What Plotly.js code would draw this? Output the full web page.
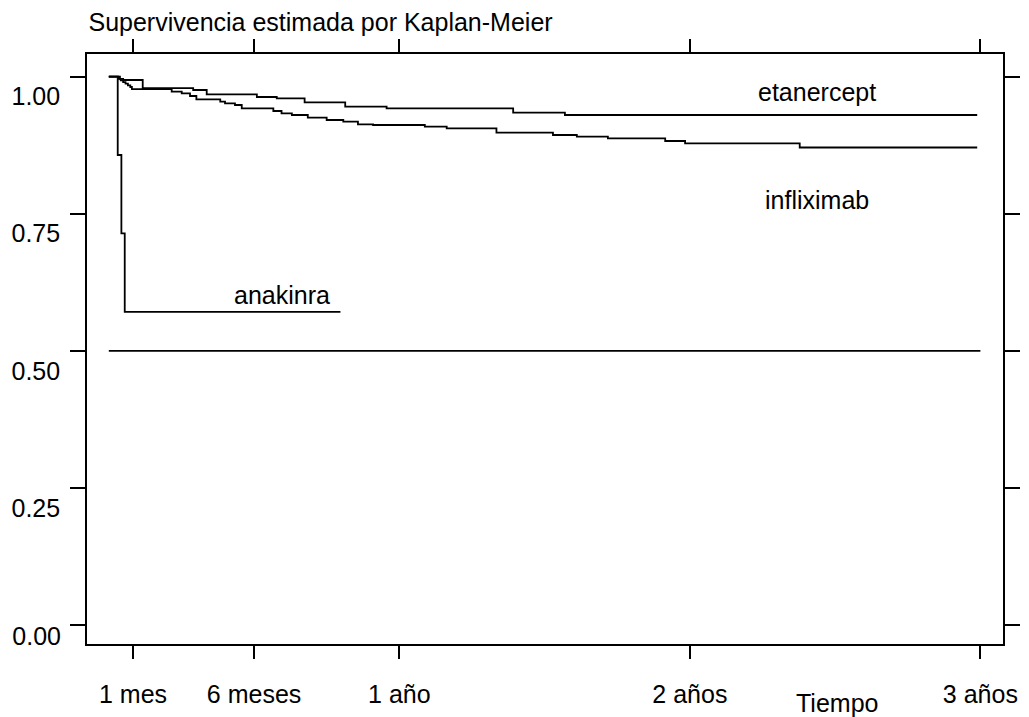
<!DOCTYPE html>
<html>
<head>
<meta charset="utf-8">
<script src="https://cdn.plot.ly/plotly-3.0.1.min.js"></script>
<style>html,body{margin:0;padding:0;background:#fff}#chart{width:1029px;height:717px}</style>
</head>
<body>
<div id="chart"></div>
<script>
// Tiempo en días
var xTickVals = [30.4, 182.5, 365, 730, 1095];
var xTickText = ["1 mes", "6 meses", "1 año", "2 años", "3 años"];
var yTickVals = [0, 0.25, 0.5, 0.75, 1];
var yTickText = ["", "0.25", "0.50", "0.75", "1.00"];
var yZeroVals = [0];
var yZeroText = ["0.00"];

var etanerceptTime = [0, 14, 18, 42.6, 106, 123, 186, 211, 246, 297, 349, 508, 573, 1091];
var etanerceptSurv = [1.0, 0.996, 0.9938, 0.979, 0.9756, 0.9677, 0.9628, 0.9604, 0.9531, 0.9451, 0.9421, 0.9342, 0.930, 0.930];

var infliximabTime = [0, 12, 15, 18, 21, 24, 27, 29, 79, 91.6, 102, 110, 140, 146, 158.5, 167, 206.7, 217, 230, 250, 273.7, 294.6, 313, 332, 397, 424.5, 487, 558, 588, 627, 699, 724, 868, 1091];
var infliximabSurv = [1.0, 0.996, 0.993, 0.990, 0.987, 0.984, 0.981, 0.977, 0.9725, 0.9695, 0.9646, 0.9586, 0.9543, 0.9513, 0.9482, 0.9422, 0.9373, 0.9331, 0.930, 0.9251, 0.9209, 0.9178, 0.913, 0.9117, 0.9087, 0.9057, 0.8977, 0.8935, 0.8905, 0.8875, 0.8826, 0.8784, 0.8707, 0.8707];

var anakinraTime = [0, 11.2, 15.8, 20, 291];
var anakinraSurv = [1.0, 0.857, 0.714, 0.571, 0.571];

var medianTime = [0, 1095];
var medianSurv = [0.5, 0.5];

var seriesNames = ["etanercept", "infliximab", "anakinra"];

var lineStyle = {color: "#000", width: 1.8, shape: "hv"};
var traces = [
  {x: etanerceptTime, y: etanerceptSurv, name: seriesNames[0], mode: "lines", line: lineStyle},
  {x: infliximabTime, y: infliximabSurv, name: seriesNames[1], mode: "lines", line: lineStyle},
  {x: anakinraTime, y: anakinraSurv, name: seriesNames[2], mode: "lines", line: lineStyle},
  {x: medianTime, y: medianSurv, name: "mediana", mode: "lines", yaxis: "y2", line: {color: "#000", width: 1.8}}
];

var font = {family: "Liberation Sans, Arial, sans-serif", size: 25, color: "#000"};
var yRange = [-0.0346, 1.0412];

var layout = {
  width: 1029, height: 717,
  margin: {l: 87, r: 26, t: 54, b: 73, pad: 0},
  paper_bgcolor: "#fff", plot_bgcolor: "#fff",
  showlegend: false,
  font: font,
  title: {text: "Supervivencia estimada por Kaplan-Meier", font: font,
          xref: "container", x: 0.086, xanchor: "left",
          yref: "container", y: 0.969, yanchor: "middle"},
  xaxis: {
    range: [-27.4, 1123.4], showgrid: false, zeroline: false,
    showline: true, linecolor: "#000", linewidth: 1.8, mirror: "ticks",
    ticks: "outside", ticklen: 13, tickwidth: 1.8, tickcolor: "#000",
    tickmode: "array", tickvals: xTickVals, ticktext: xTickText,
    ticklabelstandoff: 14, tickfont: font
  },
  yaxis: {
    range: yRange, showgrid: false, zeroline: false,
    showline: true, linecolor: "#000", linewidth: 1.8, mirror: "ticks",
    ticks: "outside", ticklen: 15, tickwidth: 1.8, tickcolor: "#000",
    tickmode: "array", tickvals: yTickVals, ticktext: yTickText,
    ticklabelshift: 20, ticklabelstandoff: 5, tickfont: font
  },
  yaxis2: {
    overlaying: "y", side: "left", range: yRange,
    showgrid: false, zeroline: false, showline: false,
    ticks: "outside", ticklen: 15, tickcolor: "rgba(0,0,0,0)",
    tickmode: "array", tickvals: yZeroVals, ticktext: yZeroText,
    ticklabelshift: 11, ticklabelstandoff: 5, tickfont: font
  },
  annotations: [
    {text: seriesNames[0], x: 889.7, y: 0.972, xref: "x", yref: "y", xanchor: "center", yanchor: "middle", showarrow: false, font: font},
    {text: seriesNames[1], x: 889.7, y: 0.775, xref: "x", yref: "y", xanchor: "center", yanchor: "middle", showarrow: false, font: font},
    {text: seriesNames[2], x: 217.6, y: 0.6017, xref: "x", yref: "y", xanchor: "center", yanchor: "middle", showarrow: false, font: font},
    {text: "Tiempo", x: (837 - 87) / 916, y: -0.1, xref: "paper", yref: "paper", xanchor: "center", yanchor: "middle", showarrow: false, font: font}
  ]
};

Plotly.newPlot("chart", traces, layout, {displayModeBar: false, staticPlot: true});
</script>
</body>
</html>
